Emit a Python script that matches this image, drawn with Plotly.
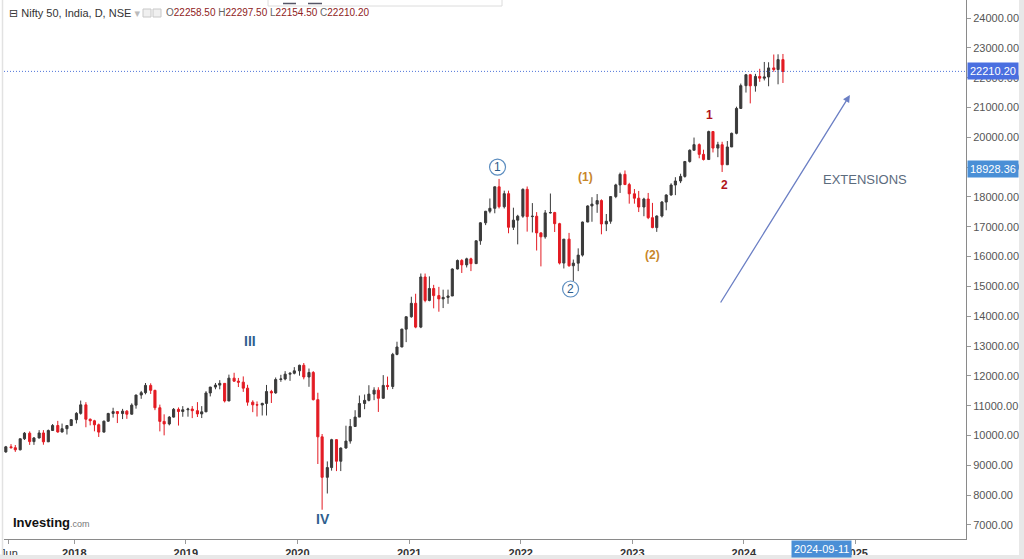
import pandas as pd
import plotly.graph_objects as go

# ---------------- data (semi-monthly candles) ----------------
first_open = 9450
highs = [
    # 2017 (from mid-May)
    9650, 9710, 9680, 9900, 10115, 10137, 9950, 10180, 10180, 10200, 10385, 10490, 10400, 10340, 10552,
    # 2018
    10782, 11171, 11117, 10570, 10525, 10400, 10500, 10760, 10930, 10780, 10893, 10850,
    11078, 11366, 11495, 11760, 11750, 11530, 11035, 10710, 10650, 10922, 10941, 10985,
    # 2019
    10930, 10987, 11119, 10985, 11487, 11630, 11761, 11856, 11758, 12041, 12103, 11930,
    11981, 11700, 11180, 11143, 11100, 11695, 11530, 11945, 12034, 12158, 12120, 12293,
    # 2020
    12374, 12430, 12246, 12160, 11433, 10050, 9131, 9889, 9880, 9598, 10328, 10554,
    10848, 11341, 11374, 11686, 11618, 11618, 12025, 11975, 12770, 13145, 13580, 13990,
    # 2021
    14653, 14753, 15432, 15431, 15336, 15051, 14984, 14890, 14891, 15606, 15901, 15915,
    15962, 15962, 16543, 17153, 17532, 17947, 18350, 18604, 18210, 18210, 17639, 17400,
    # 2022
    18286, 18350, 17794, 17490, 16815, 17559, 18114, 17500, 17132, 16584, 16794, 15900,
    16275, 17172, 17719, 17992, 18096, 17920, 17428, 18022, 18442, 18816, 18887, 18473,
    # 2023
    18265, 18201, 17973, 18134, 17800, 17381, 17864, 18089, 18458, 18662, 18778, 19201,
    19595, 19991, 19795, 19584, 20222, 20155, 19849, 19850, 19875, 20158, 21026, 21801,
    # 2024
    22124, 22125, 22127, 22297, 22526, 22516, 22776, 22783, 22794,
]
lows = [
    9420, 9570, 9450, 9500, 9850, 9685, 9685, 9900, 9690, 9780, 10150, 10094, 10100, 10033, 10340,
    10404, 10700, 10276, 10340, 10140, 9951, 10100, 10460, 10600, 10417, 10550, 10558,
    10700, 10900, 11230, 11380, 11393, 10850, 10138, 10005, 10340, 10600, 10333, 10628,
    10630, 10583, 10620, 10585, 10817, 11311, 11550, 11549, 11108, 11240, 11800, 11625,
    11462, 10999, 10782, 10637, 10671, 10670, 11090, 11400, 11800, 11850, 11832, 12050,
    12005, 11883, 11633, 11175, 9044, 7511, 8055, 8821, 8806, 8807, 9560, 9726,
    10300, 10738, 10882, 11144, 11185, 10790, 11347, 11535, 11557, 12690, 12962, 13131,
    13950, 13597, 13600, 14467, 14500, 14264, 14151, 14273, 14416, 14725, 15570, 15450,
    15635, 15513, 15750, 16395, 17055, 17452, 17452, 17614, 17613, 16782, 16891, 16410,
    17300, 16837, 16809, 16203, 15671, 16600, 17442, 16824, 15736, 15601, 15659, 15183,
    15512, 16000, 17154, 17167, 17468, 16747, 16855, 17100, 17959, 18133, 18399, 17774,
    17774, 17493, 17353, 17255, 16950, 16828, 17313, 17553, 18042, 18060, 18464, 18646,
    19150, 19563, 19296, 19223, 19255, 19492, 19333, 18837, 19079, 19733, 20100, 20950,
    21500, 21137, 21530, 21860, 21906, 21711, 22200, 21777, 21821,
]
closes = [
    9620, 9590, 9520, 9890, 10077, 9795, 9917, 10085, 9788, 10167, 10335, 10118, 10227, 10333, 10530,
    10742, 11027, 10545, 10493, 10360, 10113, 10480, 10739, 10801, 10736, 10817, 10714,
    11018, 11357, 11435, 11680, 11515, 10930, 10473, 10387, 10616, 10877, 10805, 10863,
    10887, 10831, 10724, 10793, 11427, 11624, 11690, 11748, 11157, 11923, 11823, 11789,
    11588, 11118, 11029, 11023, 11076, 11474, 11428, 11877, 11895, 12056, 12086, 12168,
    12355, 11962, 12113, 11202, 9955, 8598, 8925, 9860, 9137, 9580, 9813, 10302,
    10618, 11073, 11178, 11388, 11521, 11248, 11680, 11642, 12720, 12968, 13567, 13982,
    14433, 13635, 15315, 14529, 14929, 14691, 14581, 14631, 14678, 15583, 15869, 15721,
    15924, 15763, 16529, 17132, 17519, 17618, 18339, 17672, 18109, 16983, 17222, 17354,
    18255, 17340, 17352, 16794, 16663, 17465, 17476, 17103, 15782, 16585, 15692, 15780,
    16049, 17158, 17698, 17759, 17877, 17094, 17185, 18012, 18403, 18758, 18414, 18105,
    17957, 17662, 17930, 17304, 16972, 17360, 17828, 18065, 18399, 18534, 18688, 19189,
    19565, 19754, 19428, 19254, 20192, 19638, 19751, 19079, 19675, 20133, 20969, 21731,
    22097, 21726, 22041, 21983, 22023, 22327, 22273, 22605, 22210.20,
]
opens = [first_open] + closes[:-1]

last_ohlc = {"O": "22258.50", "H": "22297.50", "L": "22154.50", "C": "22210.20"}
last_close = 22210.20
marker_level = 18928.36
crosshair_date = "2024-09-11"

year_ticks = ["2017-06-01", "2018-01-01", "2019-01-01", "2020-01-01", "2021-01-01",
              "2022-01-01", "2023-01-01", "2024-01-01", "2025-01-01"]
year_labels = ["Jun", "<b>2018</b>", "<b>2019</b>", "<b>2020</b>", "<b>2021</b>",
               "<b>2022</b>", "<b>2023</b>", "<b>2024</b>", "<b>2025</b>"]

# wave labels: (text, date, price, colour, size, bold)
wave_labels = [
    ("III", "2019-07-30", 13170, "#2f5f8f", 14, True),
    ("IV", "2020-03-24", 7200, "#2f5f8f", 14, True),
    ("(1)", "2022-08-01", 18668, "#c8862a", 12, True),
    ("(2)", "2023-03-08", 16050, "#c8862a", 12, True),
    ("1", "2023-09-11", 20750, "#b0141b", 12, True),
    ("2", "2023-10-30", 18400, "#b0141b", 12, True),
]
circled_labels = [("1", "2021-10-17", 19000), ("2", "2022-06-13", 14912)]

# ---------------- figure ----------------
period_starts = pd.date_range("2017-05-15", periods=len(closes), freq="SMS")
x = period_starts + pd.Timedelta(days=7)

FONT = "Liberation Sans, Arial, DejaVu Sans, sans-serif"

fig = go.Figure(go.Candlestick(
    x=x, open=opens, high=highs, low=lows, close=closes,
    increasing=dict(line=dict(color="#3a3a3a", width=1), fillcolor="#3a3a3a"),
    decreasing=dict(line=dict(color="#e31b23", width=1), fillcolor="#e31b23"),
    whiskerwidth=0, showlegend=False, hoverinfo="skip",
))

W, H = 1024, 559
ML, MR, MT, MB = 4, 58, 0, 20
PW, PH = W - ML - MR, H - MT - MB


def px(p):
    return (p - ML) / PW


def py(p):
    return (H - MB - p) / PH


shapes = [
    # dotted last-price line
    dict(type="line", xref="paper", yref="y", x0=0, x1=1, y0=last_close, y1=last_close,
         line=dict(color="#4f74d9", width=1, dash="1px,2px")),
    # outer frame
    dict(type="rect", xref="paper", yref="paper", x0=px(1019), x1=px(1026), y0=py(561), y1=py(-2),
         fillcolor="#e8e8e8", line=dict(width=0), layer="above"),
    dict(type="rect", xref="paper", yref="paper", x0=px(-2), x1=px(1026), y0=py(561), y1=py(555),
         fillcolor="#e8e8e8", line=dict(width=0), layer="above"),
    dict(type="line", xref="paper", yref="paper", x0=px(2.5), x1=px(2.5), y0=py(556), y1=py(0),
         line=dict(color="#e2e2e2", width=1.5)),
    # toolbar at the top
    dict(type="rect", xref="paper", yref="paper", x0=px(268), x1=px(502), y0=py(6), y1=py(-3),
         fillcolor="white", line=dict(color="#dcdcdc", width=1), layer="below"),
    dict(type="line", xref="paper", yref="paper", x0=px(283), x1=px(296), y0=py(3.5), y1=py(3.5),
         line=dict(color="#556", width=1.5)),
    dict(type="line", xref="paper", yref="paper", x0=px(308), x1=px(322), y0=py(3.5), y1=py(3.5),
         line=dict(color="#556", width=1.5)),
    # header icons
    dict(type="rect", xref="paper", yref="paper", x0=px(143), x1=px(151), y0=py(17), y1=py(9),
         fillcolor="#f0f0f0", line=dict(color="#c8c8c8", width=1)),
    dict(type="rect", xref="paper", yref="paper", x0=px(153), x1=px(161), y0=py(17), y1=py(9),
         fillcolor="#f0f0f0", line=dict(color="#c8c8c8", width=1)),
]
for txt, d, p in circled_labels:
    shapes.append(dict(type="circle", xref="x", yref="y", xsizemode="pixel", ysizemode="pixel",
                       xanchor=d, yanchor=p, x0=-8, x1=8, y0=-8, y1=8,
                       line=dict(color="#5d8ec0", width=1.2), fillcolor="rgba(255,255,255,0)"))

annotations = []
for txt, d, p, col, sz, bold in wave_labels:
    annotations.append(dict(x=d, y=p, xref="x", yref="y", showarrow=False,
                            text=f"<b>{txt}</b>" if bold else txt,
                            font=dict(family=FONT, size=sz, color=col)))
for txt, d, p in circled_labels:
    annotations.append(dict(x=d, y=p, xref="x", yref="y", showarrow=False, text=txt,
                            font=dict(family=FONT, size=12, color="#2e5b8a")))

annotations += [
    dict(x="2025-01-31", y=18600, xref="x", yref="y", showarrow=False, text="EXTENSIONS",
         font=dict(family=FONT, size=13, color="#5b6b7d")),
    dict(x="2024-12-13", y=21418, ax="2023-10-14", ay=14409, xref="x", yref="y",
         axref="x", ayref="y", showarrow=True, arrowhead=2, arrowsize=1.1, arrowwidth=1.3,
         arrowcolor="#6b7fc4", text=""),
    # header
    dict(x=px(7), y=py(13), xref="paper", yref="paper", xanchor="left", yanchor="middle",
         showarrow=False, text="⊟ Nifty 50, India, D, NSE <span style='color:#bbb'>▾</span>",
         font=dict(family=FONT, size=11, color="#333")),
    dict(x=px(164), y=py(13), xref="paper", yref="paper", xanchor="left", yanchor="middle",
         showarrow=False,
         text=" ".join(f"<span style='color:#666'>{k}</span>{v}" for k, v in last_ohlc.items()),
         font=dict(family=FONT, size=10, color="#8f2222")),
    # logo
    dict(x=px(11), y=py(522), xref="paper", yref="paper", xanchor="left", yanchor="middle",
         showarrow=False,
         text="<b>Investing</b><span style='font-size:9px;color:#777'>.com</span>",
         font=dict(family=FONT, size=13, color="#111")),
    # price labels on the right axis
    dict(x=1, y=last_close, xref="paper", yref="y", xanchor="left", yanchor="middle",
         showarrow=False, text=f"{last_close:.2f}", bgcolor="#4a6fe0", borderpad=2, xshift=1,
         font=dict(family=FONT, size=11, color="white")),
    dict(x=1, y=marker_level, xref="paper", yref="y", xanchor="left", yanchor="middle",
         showarrow=False, text=f"{marker_level:.2f}", bgcolor="#4a8fd6", borderpad=2, xshift=1,
         font=dict(family=FONT, size=11, color="white")),
    # crosshair date label on the time axis
    dict(x=crosshair_date, y=0, xref="x", yref="paper", xanchor="center", yanchor="top",
         showarrow=False, text=crosshair_date, bgcolor="#4a8fd6", borderpad=2, yshift=-1,
         font=dict(family=FONT, size=11, color="white")),
]

fig.update_layout(
    width=W, height=H, autosize=False,
    margin=dict(l=ML, r=MR, t=MT, b=MB, pad=0),
    paper_bgcolor="white", plot_bgcolor="white",
    font=dict(family=FONT, size=11, color="#333"),
    showlegend=False,
    xaxis=dict(type="date", range=["2017-05-16", "2025-12-28"], rangeslider=dict(visible=False),
               showgrid=False, zeroline=False, showline=True, linecolor="#8a8a8a", linewidth=1,
               tickvals=year_ticks, ticktext=year_labels, ticks="outside", ticklen=4,
               tickcolor="#9a9a9a", tickfont=dict(family=FONT, size=11, color="#333")),
    yaxis=dict(side="right", range=[6529, 24604], dtick=1000, tick0=0, tickformat=".2f",
               showgrid=False, zeroline=False, showline=True, linecolor="#8a8a8a", linewidth=1,
               ticks="outside", ticklen=4, tickcolor="#9a9a9a",
               tickfont=dict(family=FONT, size=11, color="#555")),
    shapes=shapes, annotations=annotations,
)

fig.write_html("out.html", config={"displayModeBar": False},
               post_script="document.body.style.margin='0';document.body.style.overflow='hidden';")
